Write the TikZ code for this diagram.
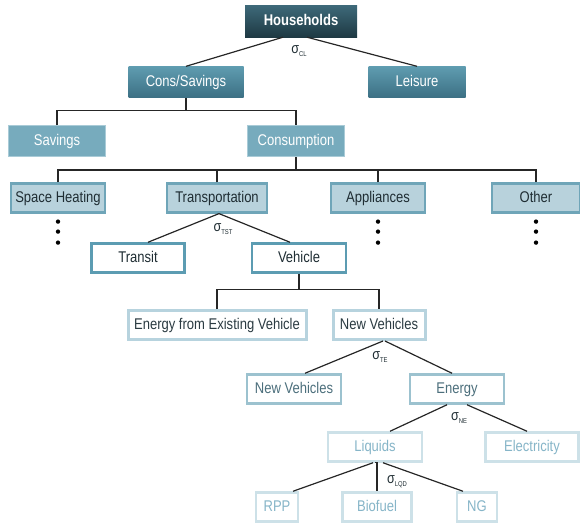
\documentclass[tikz,border=0pt]{standalone}
\usepackage{fontspec}
\setmainfont{Liberation Sans}[FakeStretch=0.84]
\usetikzlibrary{positioning}

\definecolor{hhtop}{HTML}{3E6A7A}
\definecolor{hhbot}{HTML}{1E3943}
\definecolor{cstop}{HTML}{5F9CB0}
\definecolor{csbot}{HTML}{3C7084}
\definecolor{midfill}{HTML}{77ABBD}
\definecolor{midline}{HTML}{A9CBD7}
\definecolor{catfill}{HTML}{B8D2DC}
\definecolor{catline}{HTML}{6FA5B8}
\definecolor{darktext}{HTML}{1F2D33}
\definecolor{transline}{HTML}{5C9CB2}
\definecolor{vehline}{HTML}{B7D3DE}
\definecolor{vehtext}{HTML}{2B3B42}
\definecolor{nvline}{HTML}{9CC2CF}
\definecolor{nvtext}{HTML}{4C6F7C}
\definecolor{liqline}{HTML}{CDE1E8}
\definecolor{liqtext}{HTML}{86B5C8}

\newcommand{\sig}[1]{\fontsize{15}{16}\selectfont σ\raisebox{-3pt}{\fontsize{7}{7}\selectfont #1}}

\begin{document}
\begin{tikzpicture}[
        x = 1pt, y = -1pt,
        font = \fontsize{15.5}{17}\selectfont,
        every node/.style = {inner sep = 0pt, minimum height = 29pt, text height = 11pt, text depth = 3pt},
        link/.style = {draw = black!85, line width = 1.2pt},
        tierone/.style = {top color = hhtop, bottom color = hhbot, text = white,
                          font = \fontsize{15.5}{17}\selectfont\bfseries, minimum height = 32pt},
        tiertwo/.style = {top color = cstop, bottom color = csbot, text = white, minimum height = 31pt},
        tierthree/.style = {fill = midfill, draw = midline, line width = 1pt, text = white, minimum height = 31pt},
        tierfour/.style = {fill = catfill, draw = catline, line width = 2.2pt, text = darktext},
        tierfive/.style = {fill = white, draw = transline, line width = 2.5pt, text = darktext},
        tiersix/.style = {fill = white, draw = vehline, line width = 3pt, text = vehtext},
        tierseven/.style = {fill = white, draw = nvline, line width = 2.5pt, text = nvtext},
        tiereight/.style = {fill = white, draw = liqline, line width = 2.5pt, text = liqtext},
        sigma/.style = {minimum height = 0pt, text = darktext}
    ]

      \useasboundingbox (0,0) rectangle (580,523);

      % top of the tree
      \node[tierone, minimum width = 112pt] (hh) at (301,21) {Households};
      \node[tiertwo, minimum width = 115pt] (cons) at (186,82) {Cons/Savings};
      \node[tiertwo, minimum width = 97pt] (leis) at (417,82) {Leisure};
      \node[tierthree, minimum width = 97pt] (sav) at (57,141) {Savings};
      \node[tierthree, minimum width = 97pt] (consum) at (296,141) {Consumption};

      % categories
      \node[tierfour, minimum width = 94pt] (heat) at (58,198) {Space Heating};
      \node[tierfour, minimum width = 100pt] (trans) at (217,198) {Transportation};
      \node[tierfour, minimum width = 94pt] (appl) at (378,198) {Appliances};
      \node[tierfour, minimum width = 88pt] (other) at (536,198) {Other};

      % transportation branch
      \node[tierfive, minimum width = 93pt] (transit) at (138,258) {Transit};
      \node[tierfive, minimum width = 94pt] (veh) at (299,258) {Vehicle};
      \node[tiersix, minimum width = 178pt] (exist) at (217,325) {Energy from Existing Vehicle};
      \node[tiersix, minimum width = 92pt] (newveh) at (379,325) {New Vehicles};
      \node[tierseven, minimum width = 94pt] (newvehb) at (294,389) {New Vehicles};
      \node[tierseven, minimum width = 94pt] (energy) at (457,389) {Energy};
      \node[tiereight, minimum width = 94pt] (liq) at (375,447) {Liquids};
      \node[tiereight, minimum width = 93pt] (elec) at (532,447) {Electricity};
      \node[tiereight, minimum width = 42pt] (rpp) at (277,507) {RPP};
      \node[tiereight, minimum width = 69pt] (bio) at (377,507) {Biofuel};
      \node[tiereight, minimum width = 40pt] (ng) at (477,507) {NG};

      % elasticities
      \node[sigma] (sCL) at (299,49) {\sig{CL}};
      \node[sigma] (sTST) at (223,227) {\sig{TST}};
      \node[sigma] (sTE) at (380,355) {\sig{TE}};
      \node[sigma] (sNE) at (459,416) {\sig{NE}};
      \node[sigma] (sLQD) at (397,479) {\sig{LQD}};

      % connectors
      \draw[link] ([xshift = -18pt]hh.south) -- (cons.north);
      \draw[link] ([xshift = 6pt]hh.south) -- (leis.north);

      \draw[link] (cons.south) -- ++(0,13) coordinate (j1);
      \draw[link] (sav.north) |- (j1) -| (consum.north);

      \draw[link] (consum.south) -- ++(0,13) coordinate (j2);
      \draw[link] (heat.north) |- (j2) -| (other.north);
      \draw[link] (trans.north) -- (trans.north |- j2);
      \draw[link] (appl.north) -- (appl.north |- j2);

      \draw[link] ([xshift = 2pt]trans.south) -- ([xshift = 10pt]transit.north);
      \draw[link] ([xshift = 2pt]trans.south) -- ([xshift = -9pt]veh.north);

      \draw[link] (veh.south) -- ++(0,16) coordinate (j3);
      \draw[link] (exist.north) |- (j3) -| (newveh.north);

      \draw[link] ([xshift = 4pt]newveh.south) -- ([xshift = 11pt]newvehb.north);
      \draw[link] ([xshift = 6pt]newveh.south) -- ([xshift = -5pt]energy.north);

      \draw[link] ([xshift = -10pt]energy.south) -- ([xshift = 15pt]liq.north);
      \draw[link] ([xshift = 10pt]energy.south) -- ([xshift = -5pt]elec.north);

      \draw[link] ([xshift = -2pt]liq.south) -- ([xshift = 16pt]rpp.north);
      \draw[link] (liq.south) -- (liq.south -| bio.north) -- (bio.north);
      \draw[link] ([xshift = 8pt]liq.south) -- ([xshift = -14pt]ng.north);

      % more categories below
      \foreach \col in {heat, appl, other}
        \foreach \dy in {8, 18, 29}
          \fill (\col.south) ++(0,\dy) circle (2.2pt);

\end{tikzpicture}
\end{document}
